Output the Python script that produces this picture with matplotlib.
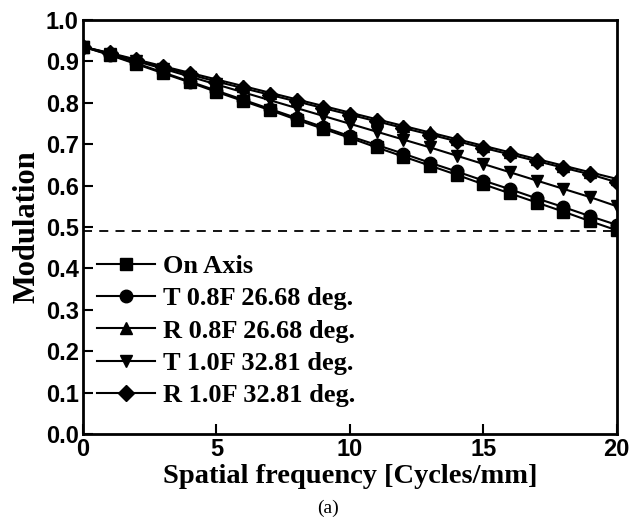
import matplotlib
matplotlib.use("Agg")
import matplotlib.pyplot as plt

freq = list(range(0, 21))
on_axis = [0.935, 0.915, 0.893, 0.871, 0.849, 0.826, 0.804, 0.782, 0.759, 0.737, 0.715,
           0.692, 0.670, 0.648, 0.626, 0.603, 0.581, 0.559, 0.537, 0.514, 0.492]
t08 = [0.935, 0.916, 0.895, 0.873, 0.851, 0.829, 0.807, 0.785, 0.763, 0.741, 0.719,
       0.698, 0.677, 0.655, 0.634, 0.612, 0.591, 0.569, 0.548, 0.526, 0.505]
r08 = [0.935, 0.920, 0.904, 0.888, 0.872, 0.856, 0.840, 0.824, 0.808, 0.792, 0.776,
       0.760, 0.744, 0.728, 0.712, 0.696, 0.680, 0.664, 0.648, 0.632, 0.616]
t10 = [0.935, 0.918, 0.900, 0.882, 0.863, 0.844, 0.825, 0.806, 0.787, 0.768, 0.749,
       0.730, 0.711, 0.692, 0.672, 0.652, 0.632, 0.612, 0.592, 0.572, 0.550]
r10 = [0.935, 0.919, 0.902, 0.885, 0.868, 0.851, 0.835, 0.819, 0.803, 0.787, 0.771,
       0.755, 0.739, 0.723, 0.707, 0.691, 0.675, 0.659, 0.643, 0.627, 0.608]
threshold = 0.49

labels = ["On Axis", "T 0.8F 26.68 deg.", "R 0.8F 26.68 deg.",
          "T 1.0F 32.81 deg.", "R 1.0F 32.81 deg."]
series = [on_axis, t08, r08, t10, r10]
markers = ["s", "o", "^", "v", "D"]
msizes = [8, 9, 9, 9, 8]

fig = plt.figure(figsize=(6.31, 5.20), dpi=100)
ax = fig.add_axes([0.1315, 0.165, 0.846, 0.797])

for ys, lab, m, ms in zip(series, labels, markers, msizes):
    ax.plot(freq, ys, color="black", lw=1.5, marker=m, markersize=ms, label=lab)

ax.axhline(threshold, color="black", lw=1.3, ls=(0, (5, 4)))

ax.set_xlim(0, 20)
ax.set_ylim(0, 1.0)
ax.set_xticks([0, 5, 10, 15, 20])
ax.set_yticks([i / 10 for i in range(11)])
ax.set_yticklabels([f"{i/10:.1f}" for i in range(11)])
ax.tick_params(direction="in", length=7, width=1.5, top=False, right=False, pad=3)
for lab in ax.get_xticklabels() + ax.get_yticklabels():
    lab.set_fontfamily("Liberation Sans")
    lab.set_fontweight("bold")
    lab.set_fontsize(17)
for sp in ax.spines.values():
    sp.set_linewidth(2)

ax.set_xlabel("Spatial frequency [Cycles/mm]", fontfamily="Liberation Serif",
              fontweight="bold", fontsize=20.5, labelpad=2)
ax.set_ylabel("Modulation", fontfamily="Liberation Serif", fontweight="bold",
              fontsize=22, labelpad=3)

leg = ax.legend(loc="upper left", bbox_to_anchor=(0.026, 0.433), frameon=False,
                prop={"family": "Liberation Serif", "weight": "bold", "size": 19},
                handlelength=2.2, labelspacing=0.33, handletextpad=0.3,
                borderaxespad=0.0, borderpad=0.0)

fig.text(0.52, 0.006, "(a)", ha="center", va="bottom",
         fontfamily="Liberation Serif", fontsize=14)

fig.savefig("out.png", dpi=100)
